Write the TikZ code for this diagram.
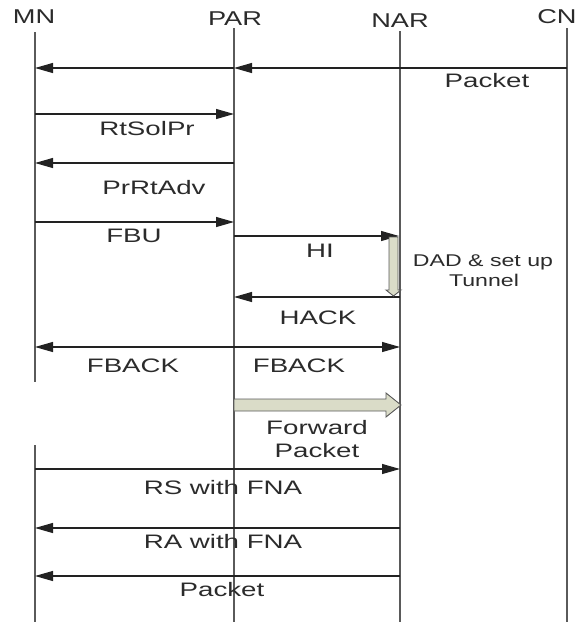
\documentclass[tikz,border=0pt]{standalone}
\usepackage{fontspec}
\setmainfont{Liberation Sans}
\usetikzlibrary{arrows.meta}
\definecolor{lifec}{HTML}{5A5A5A}
\definecolor{msgc}{HTML}{222222}
\definecolor{txtc}{HTML}{2B2B2B}
\definecolor{blockfill}{HTML}{DADCC8}
\newcommand{\sx}[1]{\scalebox{1.42}[1]{#1}}
\begin{document}
\begin{tikzpicture}[x=1pt,y=-1pt,
  life/.style={draw=lifec, line width=1.6pt},
  msg/.style={draw=msgc, line width=1.1pt, -{Triangle[length=18pt,width=10pt]}},
  dmsg/.style={draw=msgc, line width=1.1pt, {Triangle[length=18pt,width=10pt]}-{Triangle[length=18pt,width=10pt]}},
  lbl/.style={anchor=base, inner sep=0pt, text=txtc, font=\fontsize{19.5}{22}\selectfont},
  hdr/.style={anchor=base, inner sep=0pt, text=txtc, font=\fontsize{20}{22}\selectfont},
  note/.style={anchor=base, inner sep=0pt, text=txtc, font=\fontsize{17}{20}\selectfont},
  blk/.style={draw=lifec, fill=blockfill, line width=0.9pt, line join=miter}]
\useasboundingbox (0,0) rectangle (581,625);

% headers
\node[hdr] (mn)  at (34,23)  {\scalebox{1.36}[1]{MN}};
\node[hdr] (par) at (235,25) {\scalebox{1.36}[1]{PAR}};
\node[hdr] (nar) at (400,27) {\scalebox{1.36}[1]{NAR}};
\node[hdr] (cn)  at (557,23) {\scalebox{1.36}[1]{CN}};

% lifelines
\coordinate (mnT) at (35,32);   \coordinate (mnB1) at (35,382);
\coordinate (mnT2) at (35,445); \coordinate (mnB) at (35,622);
\coordinate (parT) at (234,28); \coordinate (parB) at (234,622);
\coordinate (narT) at (400,31); \coordinate (narB) at (400,622);
\coordinate (cnT) at (567,28);  \coordinate (cnB) at (567,622);
\draw[life] (mnT) -- (mnB1);
\draw[life] (mnT2) -- (mnB);
\draw[life] (parT) -- (parB);
\draw[life] (narT) -- (narB);
\draw[life] (cnT) -- (cnB);

% message end points
\coordinate (cn1) at (567,68);  \coordinate (par1) at (234,68); \coordinate (mn1) at (35,68);
\coordinate (mn2) at (35,114);  \coordinate (par2) at (234,114);
\coordinate (par3) at (234,163); \coordinate (mn3) at (35,163);
\coordinate (mn4) at (35,222);  \coordinate (par4) at (234,222);
\coordinate (par5) at (234,236); \coordinate (nar5) at (399,236);
\coordinate (nar6) at (400,297); \coordinate (par6) at (234,297);
\coordinate (mn7) at (35,347);  \coordinate (nar7) at (400,347);
\coordinate (mn8) at (35,469);  \coordinate (nar8) at (400,469);
\coordinate (nar9) at (400,528); \coordinate (mn9) at (35,528);
\coordinate (nar10) at (400,576); \coordinate (mn10) at (35,576);

% messages
\draw[msg] (cn1) -- (par1);
\draw[msg] (par1) -- (mn1);
\draw[msg] (mn2) -- (par2);
\draw[msg] (par3) -- (mn3);
\draw[msg] (mn4) -- (par4);
\draw[msg] (par5) -- (nar5);
\draw[msg] (nar6) -- (par6);
\draw[dmsg] (mn7) -- (nar7);
\draw[msg] (mn8) -- (nar8);
\draw[msg] (nar9) -- (mn9);
\draw[msg] (nar10) -- (mn10);

% DAD bar (block arrow pointing down)
\draw[blk] (389,237) -- (398,237) -- (398,290) -- (401,290) -- (393.5,296)
           -- (386,290) -- (389,290) -- cycle;

% forward block arrow
\draw[blk] (234,399) -- (386,399) -- (386,393) -- (401,405) -- (386,417)
           -- (386,411) -- (234,411) -- cycle;

% labels
\node[lbl] (l1)  at (487,87)  {\sx{Packet}};
\node[lbl] (l2)  at (147,135) {\sx{RtSolPr}};
\node[lbl] (l3)  at (154,194) {\sx{PrRtAdv}};
\node[lbl] (l4)  at (134,242) {\sx{FBU}};
\node[lbl] (l5)  at (320,257) {\sx{HI}};
\node[note] (l6a) at (483,266) {\scalebox{1.36}[1]{DAD \& set up}};
\node[note] (l6b) at (484,286) {\scalebox{1.36}[1]{Tunnel}};
\node[lbl] (l7)  at (318,324) {\sx{HACK}};
\node[lbl] (l8a) at (133,372) {\sx{FBACK}};
\node[lbl] (l8b) at (299,372) {\sx{FBACK}};
\node[lbl] (l9a) at (317,434) {\sx{Forward}};
\node[lbl] (l9b) at (317,457) {\sx{Packet}};
\node[lbl] (l10) at (223,494) {\sx{RS with FNA}};
\node[lbl] (l11) at (223,548) {\sx{RA with FNA}};
\node[lbl] (l12) at (222,596) {\sx{Packet}};
\end{tikzpicture}
\end{document}
